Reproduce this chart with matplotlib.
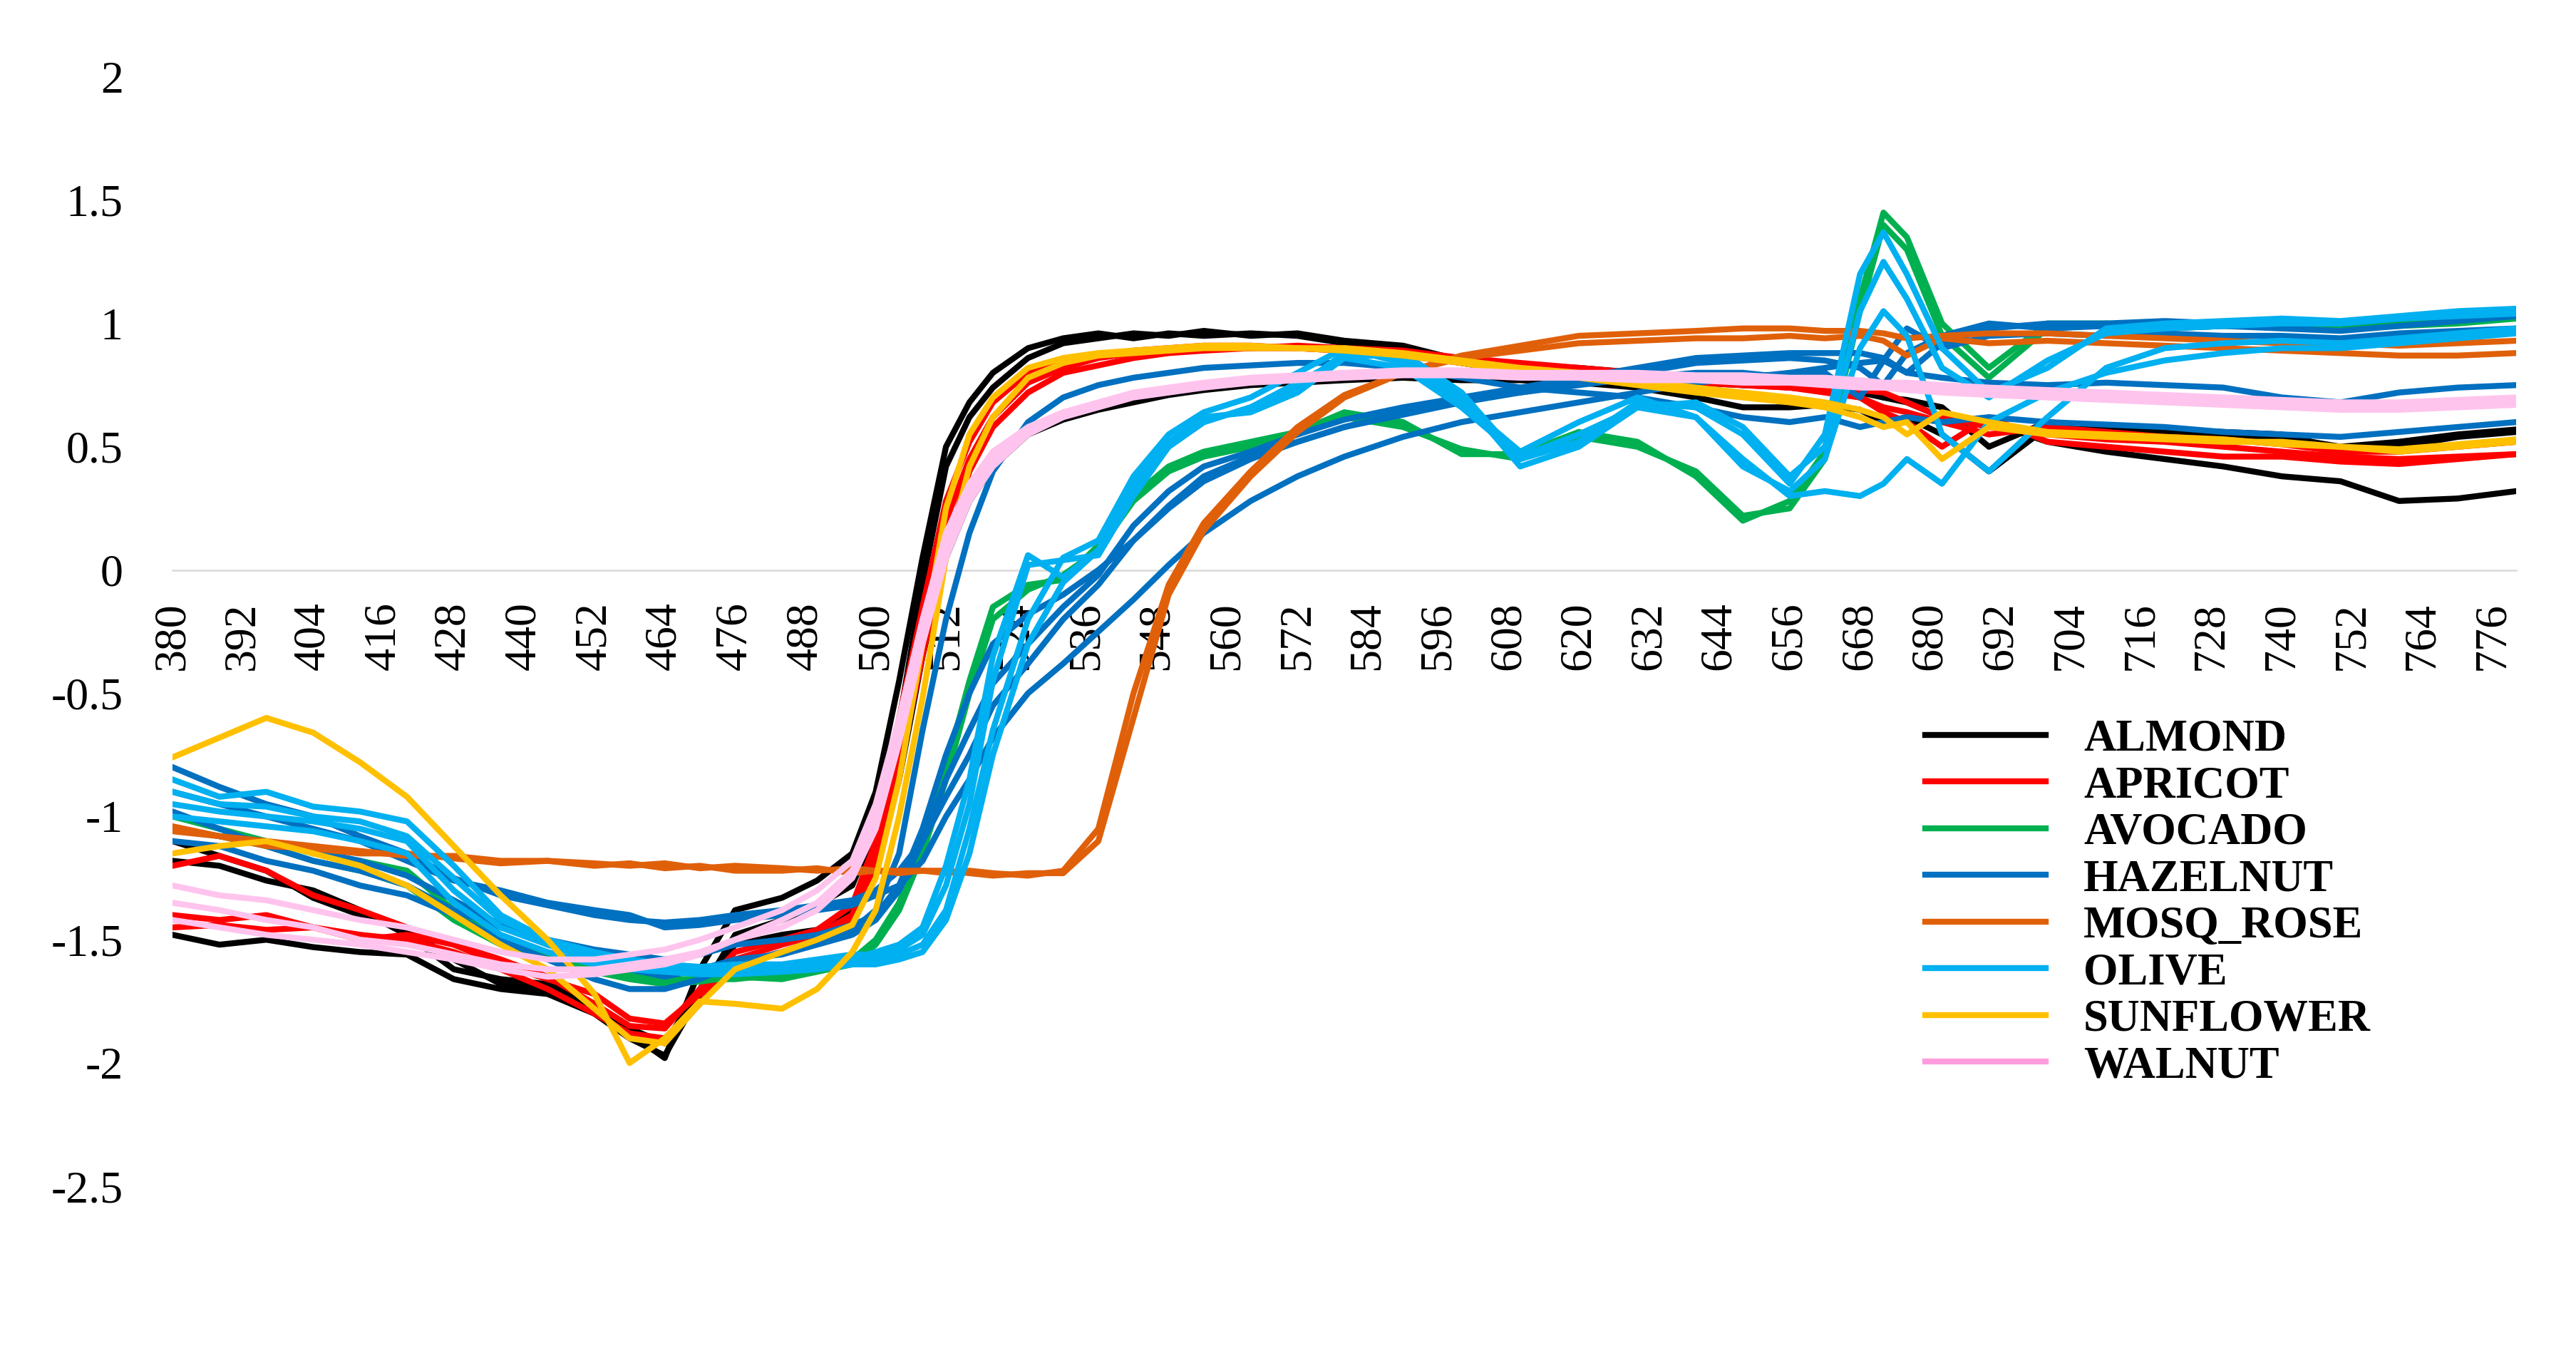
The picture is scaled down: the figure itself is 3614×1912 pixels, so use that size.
import matplotlib
matplotlib.use("Agg")
import matplotlib.pyplot as plt
from matplotlib.lines import Line2D
import numpy as np

# wavelength grid (nm) shared by all spectra
wl = [380, 388, 396, 404, 412, 420, 428, 436, 444, 452,
      458, 464, 470, 476, 484, 490, 496, 500, 504, 508,
      512, 516, 520, 526, 532, 538, 544, 550, 556, 564,
      572, 580, 590, 600, 610, 620, 630, 640, 648, 656,
      662, 668, 672, 676, 682, 690, 700, 710, 720, 730,
      740, 750, 760, 770, 780]

almond_1 = [-1.48, -1.52, -1.50, -1.53, -1.55, -1.56, -1.66, -1.70, -1.72, -1.80,
            -1.90, -1.97, -1.72, -1.48, -1.42, -1.36, -1.28, -1.05, -0.62, -0.05,
            0.42, 0.62, 0.74, 0.86, 0.92, 0.94, 0.96, 0.95, 0.97, 0.95,
            0.96, 0.93, 0.91, 0.85, 0.83, 0.82, 0.80, 0.77, 0.76, 0.74,
            0.73, 0.72, 0.70, 0.68, 0.62, 0.60, 0.52, 0.48, 0.45, 0.42,
            0.38, 0.36, 0.28, 0.29, 0.32]
almond_2 = [-1.10, -1.16, -1.22, -1.33, -1.40, -1.46, -1.58, -1.68, -1.70, -1.78,
            -1.88, -1.98, -1.62, -1.38, -1.33, -1.26, -1.15, -0.90, -0.45, 0.05,
            0.50, 0.68, 0.80, 0.90, 0.94, 0.96, 0.94, 0.96, 0.95, 0.96,
            0.95, 0.92, 0.88, 0.84, 0.80, 0.79, 0.77, 0.76, 0.75, 0.75,
            0.74, 0.73, 0.70, 0.69, 0.66, 0.50, 0.60, 0.58, 0.57, 0.56,
            0.55, 0.49, 0.50, 0.54, 0.56]
almond_3 = [-1.18, -1.20, -1.26, -1.30, -1.38, -1.48, -1.62, -1.66, -1.68, -1.76,
            -1.86, -1.92, -1.70, -1.52, -1.48, -1.46, -1.38, -1.22, -0.85, -0.35,
            0.05, 0.28, 0.42, 0.55, 0.61, 0.65, 0.68, 0.71, 0.73, 0.75,
            0.76, 0.77, 0.78, 0.77, 0.77, 0.76, 0.74, 0.70, 0.66, 0.66,
            0.67, 0.65, 0.60, 0.62, 0.55, 0.40, 0.58, 0.56, 0.55, 0.54,
            0.54, 0.50, 0.52, 0.55, 0.57]

apricot_1 = [-1.45, -1.44, -1.46, -1.45, -1.48, -1.50, -1.55, -1.62, -1.70, -1.80,
             -1.88, -1.90, -1.76, -1.58, -1.52, -1.48, -1.40, -1.15, -0.70, -0.25,
             0.20, 0.45, 0.62, 0.76, 0.82, 0.86, 0.88, 0.89, 0.90, 0.90,
             0.91, 0.90, 0.89, 0.86, 0.84, 0.82, 0.80, 0.78, 0.76, 0.75,
             0.74, 0.73, 0.72, 0.68, 0.62, 0.58, 0.55, 0.53, 0.52, 0.50,
             0.48, 0.46, 0.45, 0.46, 0.47]
apricot_2 = [-1.20, -1.16, -1.22, -1.32, -1.38, -1.45, -1.52, -1.58, -1.65, -1.76,
             -1.85, -1.86, -1.70, -1.55, -1.50, -1.46, -1.36, -1.10, -0.60, -0.15,
             0.28, 0.52, 0.68, 0.80, 0.84, 0.87, 0.89, 0.90, 0.91, 0.91,
             0.90, 0.89, 0.87, 0.84, 0.82, 0.80, 0.78, 0.76, 0.75, 0.74,
             0.72, 0.70, 0.66, 0.64, 0.60, 0.55, 0.58, 0.56, 0.54, 0.53,
             0.51, 0.48, 0.48, 0.50, 0.52]
apricot_3 = [-1.40, -1.42, -1.40, -1.45, -1.50, -1.48, -1.52, -1.60, -1.66, -1.72,
             -1.82, -1.84, -1.72, -1.60, -1.55, -1.50, -1.42, -1.20, -0.80, -0.35,
             0.10, 0.40, 0.58, 0.72, 0.80, 0.83, 0.86, 0.88, 0.89, 0.90,
             0.90, 0.89, 0.88, 0.85, 0.83, 0.81, 0.79, 0.77, 0.75, 0.74,
             0.73, 0.70, 0.64, 0.60, 0.50, 0.62, 0.52, 0.50, 0.48, 0.46,
             0.46, 0.44, 0.43, 0.45, 0.47]

avocado_1 = [-1.00, -1.05, -1.10, -1.15, -1.18, -1.22, -1.38, -1.50, -1.56, -1.62,
             -1.64, -1.66, -1.66, -1.66, -1.64, -1.62, -1.58, -1.50, -1.35, -1.10,
             -0.80, -0.45, -0.15, -0.06, -0.04, 0.10, 0.30, 0.42, 0.48, 0.52,
             0.56, 0.64, 0.60, 0.47, 0.47, 0.56, 0.52, 0.38, 0.20, 0.28,
             0.48, 1.10, 1.45, 1.35, 1.00, 0.82, 1.00, 1.00, 0.99, 1.00,
             1.00, 0.99, 1.00, 1.02, 1.03]
avocado_2 = [-1.05, -1.08, -1.12, -1.18, -1.22, -1.28, -1.42, -1.52, -1.58, -1.63,
             -1.66, -1.68, -1.67, -1.65, -1.66, -1.63, -1.60, -1.52, -1.38, -1.15,
             -0.85, -0.50, -0.20, -0.08, -0.02, 0.08, 0.28, 0.40, 0.46, 0.50,
             0.55, 0.62, 0.58, 0.49, 0.45, 0.54, 0.50, 0.40, 0.22, 0.25,
             0.45, 1.05, 1.40, 1.30, 0.95, 0.78, 0.98, 1.00, 0.98, 0.99,
             0.99, 0.98, 0.99, 1.00, 1.02]

hazelnut_1 = [-0.80, -0.88, -0.95, -1.00, -1.08, -1.15, -1.25, -1.32, -1.36, -1.40,
              -1.42, -1.43, -1.42, -1.40, -1.38, -1.36, -1.34, -1.30, -1.22, -1.10,
              -0.92, -0.75, -0.55, -0.38, -0.20, -0.06, 0.12, 0.25, 0.36, 0.45,
              0.52, 0.58, 0.64, 0.70, 0.74, 0.78, 0.82, 0.86, 0.87, 0.88,
              0.88, 0.88, 0.86, 0.80, 0.92, 0.98, 1.00, 1.00, 1.01, 1.00,
              1.01, 1.00, 1.02, 1.04, 1.05]
hazelnut_2 = [-0.90, -0.95, -1.00, -1.05, -1.10, -1.18, -1.26, -1.30, -1.35, -1.38,
              -1.40, -1.45, -1.44, -1.42, -1.40, -1.38, -1.36, -1.32, -1.28, -1.18,
              -1.00, -0.85, -0.68, -0.50, -0.38, -0.25, -0.12, 0.02, 0.15, 0.28,
              0.38, 0.46, 0.54, 0.60, 0.64, 0.68, 0.72, 0.76, 0.78, 0.80,
              0.82, 0.84, 0.85, 0.80, 0.78, 0.76, 0.75, 0.76, 0.75, 0.74,
              0.70, 0.68, 0.72, 0.74, 0.75]
hazelnut_3 = [-1.10, -1.12, -1.18, -1.22, -1.28, -1.32, -1.40, -1.50, -1.58, -1.66,
              -1.70, -1.70, -1.66, -1.60, -1.55, -1.50, -1.46, -1.38, -1.15, -0.65,
              -0.20, 0.15, 0.40, 0.60, 0.70, 0.75, 0.78, 0.80, 0.82, 0.83,
              0.84, 0.84, 0.82, 0.78, 0.74, 0.72, 0.70, 0.66, 0.62, 0.60,
              0.62, 0.58, 0.60, 0.62, 0.60, 0.62, 0.60, 0.59, 0.58, 0.56,
              0.55, 0.54, 0.56, 0.58, 0.60]
hazelnut_4 = [-1.05, -1.08, -1.10, -1.14, -1.18, -1.24, -1.34, -1.44, -1.52, -1.58,
              -1.62, -1.65, -1.62, -1.58, -1.56, -1.52, -1.48, -1.42, -1.30, -1.10,
              -0.85, -0.65, -0.46, -0.30, -0.15, -0.02, 0.18, 0.32, 0.42, 0.48,
              0.55, 0.61, 0.66, 0.70, 0.72, 0.76, 0.80, 0.84, 0.85, 0.86,
              0.85, 0.82, 0.75, 0.88, 0.95, 1.00, 0.98, 0.99, 0.98, 0.99,
              0.98, 0.97, 0.99, 1.01, 1.03]
hazelnut_5 = [-0.98, -1.05, -1.12, -1.18, -1.22, -1.28, -1.38, -1.45, -1.50, -1.54,
              -1.56, -1.58, -1.56, -1.52, -1.50, -1.48, -1.44, -1.40, -1.28, -1.05,
              -0.75, -0.50, -0.30, -0.18, -0.10, 0.00, 0.12, 0.26, 0.38, 0.46,
              0.52, 0.58, 0.63, 0.68, 0.72, 0.75, 0.78, 0.80, 0.80, 0.78,
              0.80, 0.70, 0.85, 0.98, 0.90, 0.95, 0.96, 0.95, 0.96, 0.95,
              0.95, 0.94, 0.96, 0.97, 0.98]

mosq_rose_1 = [-1.04, -1.08, -1.10, -1.12, -1.14, -1.16, -1.16, -1.18, -1.18, -1.19,
               -1.20, -1.19, -1.21, -1.20, -1.21, -1.22, -1.21, -1.22, -1.22, -1.22,
               -1.23, -1.22, -1.23, -1.24, -1.22, -1.05, -0.50, -0.06, 0.19, 0.40,
               0.58, 0.71, 0.80, 0.87, 0.91, 0.95, 0.96, 0.97, 0.98, 0.98,
               0.97, 0.97, 0.96, 0.94, 0.95, 0.96, 0.96, 0.95, 0.94, 0.93,
               0.92, 0.92, 0.91, 0.92, 0.93]
mosq_rose_2 = [-1.06, -1.08, -1.12, -1.13, -1.15, -1.15, -1.17, -1.19, -1.18, -1.20,
               -1.19, -1.21, -1.20, -1.22, -1.22, -1.21, -1.23, -1.22, -1.23, -1.22,
               -1.22, -1.23, -1.24, -1.23, -1.23, -1.10, -0.60, -0.10, 0.16, 0.38,
               0.56, 0.70, 0.80, 0.86, 0.89, 0.92, 0.93, 0.94, 0.94, 0.95,
               0.94, 0.95, 0.93, 0.87, 0.94, 0.92, 0.93, 0.92, 0.91, 0.90,
               0.89, 0.88, 0.87, 0.87, 0.88]

olive_1 = [-0.85, -0.92, -0.90, -0.96, -0.98, -1.02, -1.20, -1.40, -1.50, -1.55,
           -1.58, -1.60, -1.62, -1.62, -1.62, -1.60, -1.58, -1.55, -1.52, -1.45,
           -1.20, -0.85, -0.35, 0.06, -0.03, 0.08, 0.35, 0.52, 0.62, 0.64,
           0.72, 0.86, 0.88, 0.72, 0.45, 0.52, 0.68, 0.66, 0.55, 0.35,
           0.55, 1.20, 1.37, 1.20, 0.90, 0.72, 0.82, 0.98, 1.00, 1.01,
           1.02, 1.01, 1.03, 1.05, 1.06]
olive_2 = [-0.90, -0.95, -0.96, -1.00, -1.02, -1.08, -1.25, -1.42, -1.50, -1.56,
           -1.58, -1.60, -1.61, -1.60, -1.60, -1.58, -1.56, -1.56, -1.54, -1.48,
           -1.28, -0.95, -0.45, 0.02, 0.04, 0.06, 0.30, 0.50, 0.60, 0.66,
           0.74, 0.88, 0.86, 0.70, 0.42, 0.50, 0.66, 0.68, 0.58, 0.38,
           0.50, 1.05, 1.25, 1.10, 0.82, 0.70, 0.85, 0.96, 0.98, 0.99,
           1.00, 1.00, 1.02, 1.03, 1.04]
olive_3 = [-0.95, -0.98, -1.00, -1.02, -1.05, -1.10, -1.30, -1.45, -1.52, -1.58,
           -1.60, -1.62, -1.63, -1.62, -1.62, -1.60, -1.58, -1.58, -1.56, -1.52,
           -1.38, -1.05, -0.65, -0.20, 0.05, 0.12, 0.38, 0.55, 0.64, 0.70,
           0.80, 0.90, 0.84, 0.68, 0.48, 0.60, 0.70, 0.62, 0.42, 0.32,
           0.45, 0.90, 1.05, 0.95, 0.55, 0.40, 0.62, 0.82, 0.90, 0.92,
           0.93, 0.92, 0.94, 0.96, 0.98]
olive_4 = [-1.00, -1.02, -1.04, -1.06, -1.10, -1.15, -1.35, -1.48, -1.55, -1.60,
           -1.62, -1.63, -1.64, -1.64, -1.63, -1.62, -1.60, -1.60, -1.58, -1.55,
           -1.42, -1.15, -0.75, -0.30, -0.05, 0.08, 0.32, 0.50, 0.60, 0.66,
           0.76, 0.86, 0.82, 0.66, 0.46, 0.55, 0.66, 0.62, 0.45, 0.30,
           0.32, 0.30, 0.35, 0.45, 0.35, 0.60, 0.72, 0.80, 0.85, 0.88,
           0.90, 0.90, 0.92, 0.94, 0.96]

sunflower_1 = [-0.76, -0.68, -0.60, -0.66, -0.78, -0.92, -1.12, -1.32, -1.50, -1.72,
               -2.00, -1.90, -1.75, -1.76, -1.78, -1.70, -1.55, -1.38, -1.00, -0.52,
               0.05, 0.42, 0.62, 0.78, 0.84, 0.87, 0.88, 0.89, 0.90, 0.90,
               0.90, 0.89, 0.87, 0.84, 0.80, 0.78, 0.75, 0.72, 0.70, 0.68,
               0.66, 0.62, 0.58, 0.60, 0.45, 0.58, 0.55, 0.54, 0.53, 0.52,
               0.52, 0.50, 0.48, 0.50, 0.52]
sunflower_2 = [-1.15, -1.12, -1.10, -1.15, -1.20, -1.28, -1.40, -1.52, -1.62, -1.78,
               -1.90, -1.92, -1.76, -1.62, -1.55, -1.50, -1.44, -1.25, -0.85, -0.30,
               0.25, 0.55, 0.70, 0.82, 0.86, 0.88, 0.89, 0.90, 0.91, 0.91,
               0.90, 0.90, 0.88, 0.85, 0.82, 0.80, 0.77, 0.74, 0.72, 0.70,
               0.68, 0.65, 0.62, 0.55, 0.64, 0.60, 0.56, 0.55, 0.54, 0.53,
               0.51, 0.50, 0.49, 0.51, 0.53]

walnut_1 = [-1.28, -1.32, -1.34, -1.38, -1.42, -1.45, -1.50, -1.55, -1.58, -1.58,
            -1.56, -1.54, -1.50, -1.45, -1.38, -1.30, -1.18, -0.95, -0.60, -0.20,
            0.15, 0.35, 0.48, 0.58, 0.64, 0.68, 0.72, 0.74, 0.76, 0.78,
            0.79, 0.80, 0.81, 0.81, 0.80, 0.80, 0.80, 0.79, 0.79, 0.78,
            0.78, 0.77, 0.76, 0.76, 0.75, 0.74, 0.73, 0.72, 0.71, 0.70,
            0.69, 0.68, 0.68, 0.69, 0.70]
walnut_2 = [-1.35, -1.38, -1.42, -1.45, -1.50, -1.52, -1.56, -1.60, -1.62, -1.62,
            -1.60, -1.58, -1.55, -1.50, -1.45, -1.38, -1.25, -1.05, -0.70, -0.30,
            0.05, 0.28, 0.42, 0.55, 0.62, 0.66, 0.70, 0.72, 0.74, 0.76,
            0.77, 0.78, 0.79, 0.79, 0.78, 0.78, 0.77, 0.77, 0.76, 0.76,
            0.75, 0.74, 0.74, 0.73, 0.72, 0.71, 0.70, 0.69, 0.68, 0.67,
            0.66, 0.65, 0.65, 0.66, 0.67]
walnut_3 = [-1.42, -1.45, -1.48, -1.50, -1.52, -1.55, -1.58, -1.62, -1.65, -1.64,
            -1.62, -1.60, -1.56, -1.50, -1.42, -1.35, -1.22, -1.00, -0.65, -0.25,
            0.10, 0.32, 0.45, 0.57, 0.63, 0.67, 0.71, 0.73, 0.75, 0.77,
            0.78, 0.79, 0.80, 0.80, 0.79, 0.79, 0.78, 0.78, 0.77, 0.77,
            0.76, 0.75, 0.75, 0.74, 0.73, 0.72, 0.71, 0.70, 0.69, 0.68,
            0.67, 0.66, 0.66, 0.67, 0.68]

oils = ["ALMOND", "APRICOT", "AVOCADO", "HAZELNUT", "MOSQ_ROSE", "OLIVE", "SUNFLOWER", "WALNUT"]
oil_colors = ["#000000", "#FF0000", "#00B050", "#0070C0", "#E0600A", "#00B0F0", "#FFC000", "#FF9CDD"]
samples = [
    [almond_1, almond_2, almond_3],
    [apricot_1, apricot_2, apricot_3],
    [avocado_1, avocado_2],
    [hazelnut_1, hazelnut_2, hazelnut_3, hazelnut_4, hazelnut_5],
    [mosq_rose_1, mosq_rose_2],
    [olive_1, olive_2, olive_3, olive_4],
    [sunflower_1, sunflower_2],
    [walnut_1, walnut_2, walnut_3],
]

y_ticks = [-2.5, -2, -1.5, -1, -0.5, 0, 0.5, 1, 1.5, 2]
y_tick_labels = ["-2.5", "-2", "-1.5", "-1", "-0.5", "0", "0.5", "1", "1.5", "2"]
x_ticks = list(range(380, 777, 12))

plt.rcParams['font.family'] = ['Liberation Serif', 'DejaVu Serif']

fig = plt.figure(figsize=(36.14, 19.12), dpi=100)
ax = fig.add_axes([0.0670, 0.1297, 0.9098, 0.8138])

for name, col, group in zip(oils, oil_colors, samples):
    # walnut looks lighter in the plot body than in its legend key
    line_col = "#FFC4EE" if name == "WALNUT" else col
    for s in group:
        # zorder 3 so spectra run over the axis labels like in excel
        ax.plot(wl, s, color=line_col, lw=6, solid_joinstyle='round', zorder=3)

ax.set_xlim(380, 780)
ax.set_ylim(-2.5, 2)
ax.set_yticks(y_ticks)
ax.set_yticklabels(y_tick_labels)
ax.set_xticks(x_ticks)
ax.set_xticklabels([str(t) for t in x_ticks])

for side in ['left', 'top', 'right']:
    ax.spines[side].set_visible(False)
ax.spines['bottom'].set_position(('data', 0))
ax.spines['bottom'].set_color('#D9D9D9')
ax.spines['bottom'].set_linewidth(1.8)
ax.spines['bottom'].set_zorder(0)

ax.tick_params(axis='both', length=0, labelsize=46)
ax.tick_params(axis='y', pad=50)
ax.tick_params(axis='x', pad=32, labelrotation=90)

handles = [Line2D([], [], color=c, lw=6) for c in oil_colors]
ax.legend(handles, oils, loc='center left', bbox_to_anchor=(0.7474, 0.3374),
          bbox_transform=fig.transFigure, frameon=False,
          prop=dict(family='Liberation Serif', weight='bold', size=45),
          handlelength=2.7, handletextpad=0.85, labelspacing=0.12,
          borderpad=0, borderaxespad=0)

fig.savefig('out.png', dpi=100)
